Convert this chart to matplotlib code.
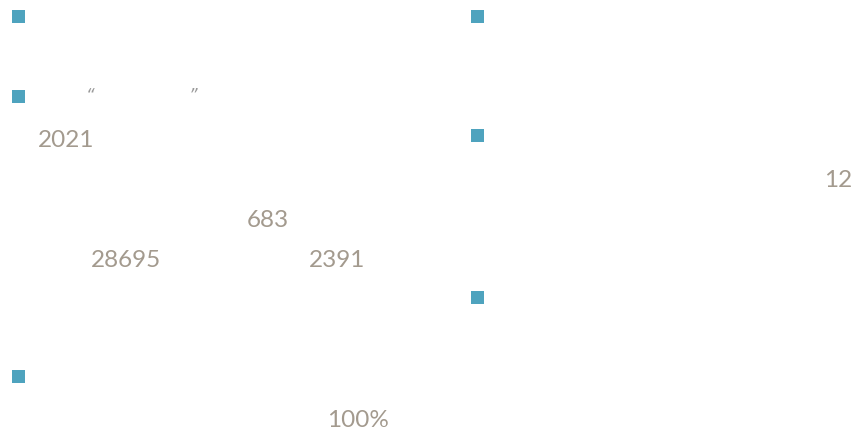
import matplotlib
matplotlib.use("Agg")
import matplotlib.pyplot as plt
from matplotlib.patches import Rectangle

# ---- data (visible text fragments) ----
numbers = ["2021", "683", "28695", "2391", "12", "100%"]
quotes = ["\u201c", "\u201d"]

# ---- layout (pixel coordinates, origin top-left) ----
number_xy = [(38, 147), (247, 227), (91, 267), (309, 267), (824, 187), (327, 427)]
quote_xy = [(86, 101), (189, 101)]
square_xy = [(12, 11), (12, 91), (12, 371), (471, 11), (471, 130), (471, 292)]
square_size = 13

W, H = 858, 431
fig = plt.figure(figsize=(W / 100, H / 100), dpi=100)
ax = fig.add_axes([0, 0, 1, 1])
ax.set_xlim(0, W)
ax.set_ylim(H, 0)
ax.axis("off")

sq_color = "#4ea3be"
txt_color = "#a39a8e"

for (x, y) in square_xy:
    ax.add_patch(Rectangle((x, y), square_size, square_size, facecolor=sq_color,
                           edgecolor="none"))

for s, (x, y) in zip(numbers, number_xy):
    ax.text(x, y, s, fontsize=17.5, color=txt_color, family=["Lato", "DejaVu Sans"],
            fontweight="normal", ha="left", va="baseline")

for s, (x, y) in zip(quotes, quote_xy):
    ax.text(x, y, s, fontsize=12, color="#9a9a9a", family=["DejaVu Sans"],
            style="italic", ha="left", va="baseline")

fig.savefig("out.png", dpi=100, facecolor="white")
